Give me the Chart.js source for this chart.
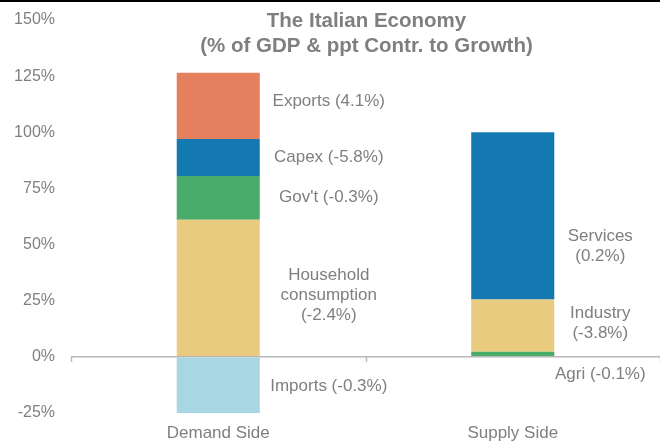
<!DOCTYPE html>
<html>
<head>
<meta charset="utf-8">
<script src="https://cdn.jsdelivr.net/npm/chart.js@4"></script>
<style>
    html, body { margin: 0; padding: 0; background: #ffffff; }
    #wrap { position: relative; width: 660px; height: 442px; }
</style>
</head>
<body>
<div id="wrap"><canvas id="economyChart" width="660" height="442"></canvas></div>
<script>
const categories = ['Demand Side', 'Supply Side'];

// share of GDP (%) for each component, stacked per side
const segmentNames = ['Imports', 'Household consumption', "Gov't", 'Capex', 'Exports', 'Agri', 'Industry', 'Services'];
const demandShares = [-26, 61, 19.5, 16.5, 29.5, null, null, null];
const supplyShares = [null, null, null, null, null, 2.3, 23.2, 74.5];
// ppt contribution to growth, shown in the labels
const growthContr = [-0.3, -2.4, -0.3, -5.8, 4.1, -0.1, -3.8, 0.2];
const segmentColors = ['#a8d6e2', '#e8cb7e', '#4aac6a', '#1479b0', '#e5805f', '#4aac6a', '#e8cb7e', '#1479b0'];

const yTicks = [-25, 0, 25, 50, 75, 100, 125, 150];

const textColor = '#7f7f7f';
const fontFamily = '"Liberation Sans", Arial, sans-serif';

// label text lines (name part) and where they sit relative to their segment
const labelNames = [
    ['Imports'],
    ['Household', 'consumption'],
    ["Gov't"],
    ['Capex'],
    ['Exports'],
    ['Agri'],
    ['Industry'],
    ['Services']
];
// true: value goes on its own line under the name
const valueOnNewLine = [false, true, false, false, false, false, true, true];
const labelOffsets = [
    { dx: 69, dy: 0 }, { dx: 69, dy: 7 }, { dx: 69, dy: -1 }, { dx: 69, dy: 0 }, { dx: 69, dy: -5 },
    { dx: 46, dy: 20 }, { dx: 46, dy: -2 }, { dx: 46, dy: 30 }
];

function labelText(i) {
    const val = '(' + growthContr[i].toFixed(1) + '%)';
    const lines = labelNames[i].slice();
    if (valueOnNewLine[i]) {
        lines.push(val);
    } else {
        lines[lines.length - 1] += ' ' + val;
    }
    return lines;
}

const datasets = segmentNames.map((name, i) => ({
    label: name,
    data: [demandShares[i], supplyShares[i]],
    backgroundColor: segmentColors[i],
    borderWidth: 0,
    categoryPercentage: 1,
    barPercentage: 0.282
}));

// segment labels to the right of each bar
const segmentLabels = {
    id: 'segmentLabels',
    afterDatasetsDraw(chart) {
        const ctx = chart.ctx;
        ctx.save();
        ctx.fillStyle = textColor;
        ctx.font = '17px ' + fontFamily;
        ctx.textAlign = 'center';
        ctx.textBaseline = 'middle';
        chart.data.datasets.forEach((ds, i) => {
            const meta = chart.getDatasetMeta(i);
            meta.data.forEach((bar, j) => {
                if (ds.data[j] === null) return;
                const lines = labelText(i);
                const off = labelOffsets[i];
                const cx = bar.x + bar.width / 2 + off.dx;
                const cy = (bar.y + bar.base) / 2 + off.dy;
                const lh = 20;
                lines.forEach((t, k) => {
                    ctx.fillText(t, cx, cy + (k - (lines.length - 1) / 2) * lh);
                });
            });
        });
        ctx.restore();
    }
};

// zero line ticks, title and frame line
const decorations = {
    id: 'decorations',
    afterDraw(chart) {
        const ctx = chart.ctx;
        const xs = chart.scales.x;
        const ys = chart.scales.y;
        const y0 = ys.getPixelForValue(0);
        const step = xs.width / categories.length;
        ctx.save();
        ctx.strokeStyle = '#b8b8b8';
        ctx.lineWidth = 1.5;
        for (let i = 0; i <= categories.length; i++) {
            const x = Math.round(xs.left + i * step) + 0.5;
            ctx.beginPath();
            ctx.moveTo(x, y0);
            ctx.lineTo(x, y0 + 5);
            ctx.stroke();
        }

        const area = chart.chartArea;
        const cx = (area.left + area.right) / 2 + 1;
        ctx.fillStyle = textColor;
        ctx.font = 'bold 20.5px ' + fontFamily;
        ctx.textAlign = 'center';
        ctx.textBaseline = 'middle';
        ctx.fillText('The Italian Economy', cx, 21);
        ctx.fillText('(% of GDP & ppt Contr. to Growth)', cx, 46);

        ctx.fillStyle = '#000000';
        ctx.fillRect(0, 0, chart.width, 2);
        ctx.restore();
    }
};

const ctx = document.getElementById('economyChart').getContext('2d');
new Chart(ctx, {
    type: 'bar',
    data: { labels: categories, datasets: datasets },
    options: {
        responsive: false,
        animation: false,
        layout: { padding: { top: 20, right: 0, bottom: 0, left: 0 } },
        plugins: {
            legend: { display: false },
            tooltip: { enabled: false },
            title: { display: false }
        },
        scales: {
            x: {
                stacked: true,
                grid: { display: false, drawTicks: false },
                border: { display: false },
                ticks: {
                    color: textColor,
                    font: { family: fontFamily, size: 17 },
                    padding: 10,
                    maxRotation: 0
                },
                afterFit(scale) { scale.height = 29; }
            },
            y: {
                stacked: true,
                min: -25,
                max: 150,
                afterBuildTicks(scale) {
                    scale.ticks = yTicks.map(v => ({ value: v }));
                },
                grid: {
                    drawTicks: false,
                    lineWidth: 1.5,
                    color: c => (c.tick && c.tick.value === 0 ? '#b8b8b8' : 'rgba(0,0,0,0)')
                },
                border: { display: false },
                ticks: {
                    color: textColor,
                    font: { family: fontFamily, size: 16 },
                    padding: 16,
                    callback: v => v + '%'
                },
                afterFit(scale) {
                    scale.width = 71;
                    scale.paddingTop = 0;
                    scale.paddingBottom = 0;
                }
            }
        }
    },
    plugins: [segmentLabels, decorations]
});
</script>
</body>
</html>
